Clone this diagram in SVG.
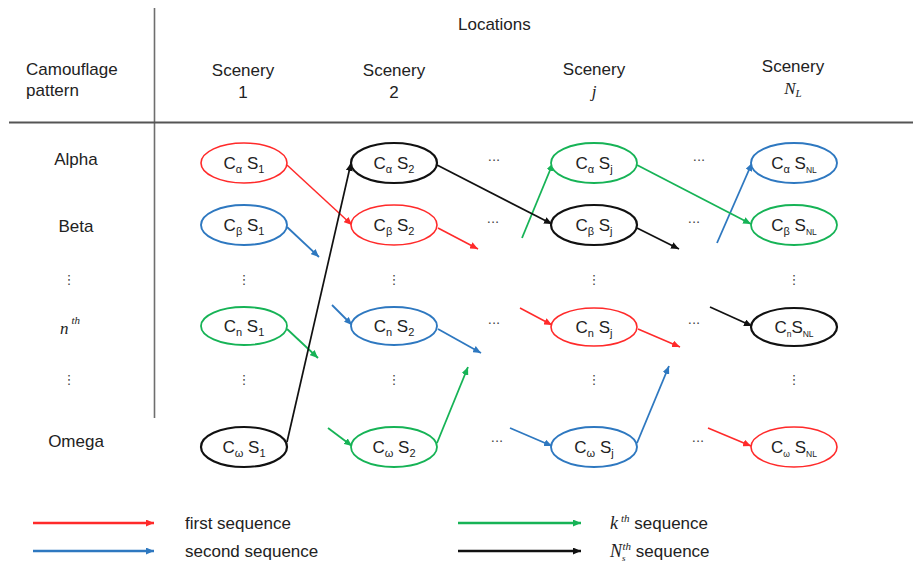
<svg xmlns="http://www.w3.org/2000/svg" width="913" height="564" viewBox="0 0 913 564">
  <style>
    text { font-family: "Liberation Sans", Arial, sans-serif; font-size: 17px; fill: #222; }
    .hd { text-anchor: middle; }
    .it { font-family: "Liberation Serif", "Times New Roman", serif; font-style: italic; }
    .sub { font-size: 11px; }
    .nl { font-size: 8.5px; }
    .dots { font-family: "DejaVu Sans", sans-serif; font-size: 13px; text-anchor: middle; fill: #444; }
    .node text { text-anchor: middle; }
    .node ellipse { fill: #fff; stroke-width: 1.6; }
    .red ellipse { stroke: #ff2a2a; }
    .blue ellipse { stroke: #2e78c0; stroke-width: 1.9; }
    .green ellipse { stroke: #16b356; stroke-width: 1.8; }
    .black ellipse { stroke: #111; stroke-width: 2.2; }
    .c { fill: none; stroke-width: 1.5; }
    .cr { stroke: #ff2a2a; marker-end: url(#ar); }
    .cb { stroke: #2e78c0; stroke-width: 1.8; marker-end: url(#ab); }
    .cg { stroke: #16b356; stroke-width: 1.8; marker-end: url(#ag); }
    .ck { stroke: #111; stroke-width: 1.7; marker-end: url(#ak); }
    .lg { stroke-width: 2.4; }
  </style>
  <defs>
    <marker id="ar" markerUnits="userSpaceOnUse" markerWidth="8" markerHeight="7" refX="8" refY="3.5" orient="auto"><path d="M0,0 L8,3.5 L0,7 z" fill="#ff2a2a"/></marker>
    <marker id="ab" markerUnits="userSpaceOnUse" markerWidth="8" markerHeight="7" refX="8" refY="3.5" orient="auto"><path d="M0,0 L8,3.5 L0,7 z" fill="#2e78c0"/></marker>
    <marker id="ag" markerUnits="userSpaceOnUse" markerWidth="8" markerHeight="7" refX="8" refY="3.5" orient="auto"><path d="M0,0 L8,3.5 L0,7 z" fill="#16b356"/></marker>
    <marker id="ak" markerUnits="userSpaceOnUse" markerWidth="8" markerHeight="7" refX="8" refY="3.5" orient="auto"><path d="M0,0 L8,3.5 L0,7 z" fill="#111"/></marker>
  </defs>

  <rect width="913" height="564" fill="#fff"/>

  <!-- table rules -->
  <line x1="154.5" y1="8" x2="154.5" y2="418" stroke="#6e6e6e" stroke-width="1.6"/>
  <line x1="9" y1="122.5" x2="913" y2="122.5" stroke="#555" stroke-width="2.2"/>

  <!-- header -->
  <g id="header">
    <text x="26" y="75">Camouflage</text>
    <text x="26" y="96">pattern</text>
    <text x="458" y="30">Locations</text>
    <text class="hd" x="243" y="76">Scenery</text>
    <text class="hd" x="243" y="98">1</text>
    <text class="hd" x="394" y="76">Scenery</text>
    <text class="hd" x="394" y="98">2</text>
    <text class="hd" x="594" y="75">Scenery</text>
    <text class="hd it" x="594" y="97">j</text>
    <text class="hd" x="793" y="72">Scenery</text>
    <text class="hd it" x="793" y="94">N<tspan class="sub" dy="3">L</tspan></text>
  </g>

  <!-- row labels -->
  <g id="rows">
    <text class="hd" x="76" y="165">Alpha</text>
    <text class="hd" x="76" y="232">Beta</text>
    <text class="dots" x="69" y="284">⋮</text>
    <text class="it" x="60" y="334" font-size="18">n<tspan font-size="11" dx="3" dy="-10">th</tspan></text>
    <text class="dots" x="69" y="384">⋮</text>
    <text class="hd" x="76" y="447">Omega</text>
  </g>

  <!-- column ellipsis marks -->
  <g id="gaps">
    <text class="dots" x="244" y="284">⋮</text>
    <text class="dots" x="394" y="284">⋮</text>
    <text class="dots" x="594" y="284">⋮</text>
    <text class="dots" x="794" y="284">⋮</text>
    <text class="dots" x="244" y="384">⋮</text>
    <text class="dots" x="394" y="384">⋮</text>
    <text class="dots" x="594" y="384">⋮</text>
    <text class="dots" x="794" y="384">⋮</text>
    <text class="dots" x="494" y="165">···</text>
    <text class="dots" x="493" y="227">···</text>
    <text class="dots" x="494" y="328">···</text>
    <text class="dots" x="497" y="446">···</text>
    <text class="dots" x="699" y="165">···</text>
    <text class="dots" x="694" y="227">···</text>
    <text class="dots" x="694" y="328">···</text>
    <text class="dots" x="698" y="446">···</text>
  </g>

  <!-- connectors -->
  <g id="connectors">
    <!-- first sequence -->
    <line class="c cr" x1="287" y1="165" x2="352" y2="225"/>
    <line class="c cr" x1="438" y1="228" x2="478" y2="249"/>
    <line class="c cr" x1="520" y1="308" x2="552" y2="325"/>
    <line class="c cr" x1="638" y1="329" x2="680" y2="347"/>
    <line class="c cr" x1="708" y1="428" x2="751" y2="446"/>
    <!-- second sequence -->
    <line class="c cb" x1="287" y1="227" x2="319" y2="257"/>
    <line class="c cb" x1="332" y1="305" x2="352" y2="325"/>
    <line class="c cb" x1="438" y1="329" x2="481" y2="353"/>
    <line class="c cb" x1="510" y1="428" x2="552" y2="446"/>
    <line class="c cb" x1="637" y1="443" x2="669" y2="366"/>
    <line class="c cb" x1="717" y1="243" x2="752" y2="163"/>
    <!-- k-th sequence -->
    <line class="c cg" x1="287" y1="329" x2="318" y2="358"/>
    <line class="c cg" x1="328" y1="428" x2="352" y2="446"/>
    <line class="c cg" x1="437" y1="443" x2="468" y2="367"/>
    <line class="c cg" x1="522" y1="238" x2="553" y2="163"/>
    <line class="c cg" x1="637" y1="165" x2="751" y2="224"/>
    <!-- Ns-th sequence -->
    <line class="c ck" x1="287" y1="442" x2="351" y2="163"/>
    <line class="c ck" x1="437" y1="165" x2="552" y2="224"/>
    <line class="c ck" x1="637" y1="228" x2="679" y2="249"/>
    <line class="c ck" x1="710" y1="307" x2="752" y2="326"/>
  </g>

  <!-- row alpha -->
  <g id="n-a1" class="node red"><ellipse cx="244" cy="163" rx="43" ry="20"/><text x="244" y="169">C<tspan class="sub" dy="4">α</tspan><tspan dy="-4"> S</tspan><tspan class="sub" dy="4">1</tspan></text></g>
  <g id="n-a2" class="node black"><ellipse cx="394" cy="163" rx="43" ry="20"/><text x="394" y="169">C<tspan class="sub" dy="4">α</tspan><tspan dy="-4"> S</tspan><tspan class="sub" dy="4">2</tspan></text></g>
  <g id="n-aj" class="node green"><ellipse cx="594" cy="163" rx="43" ry="20"/><text x="594" y="169">C<tspan class="sub" dy="4">α</tspan><tspan dy="-4"> S</tspan><tspan class="sub" dy="4">j</tspan></text></g>
  <g id="n-aN" class="node blue"><ellipse cx="794" cy="163" rx="43" ry="20"/><text x="794" y="169">C<tspan class="sub" dy="4">α</tspan><tspan dy="-4"> S</tspan><tspan class="nl" dy="4">NL</tspan></text></g>

  <!-- row beta -->
  <g id="n-b1" class="node blue"><ellipse cx="244" cy="225" rx="43" ry="20"/><text x="244" y="231">C<tspan class="sub" dy="4">β</tspan><tspan dy="-4"> S</tspan><tspan class="sub" dy="4">1</tspan></text></g>
  <g id="n-b2" class="node red"><ellipse cx="394" cy="225" rx="43" ry="20"/><text x="394" y="231">C<tspan class="sub" dy="4">β</tspan><tspan dy="-4"> S</tspan><tspan class="sub" dy="4">2</tspan></text></g>
  <g id="n-bj" class="node black"><ellipse cx="594" cy="225" rx="43" ry="20"/><text x="594" y="231">C<tspan class="sub" dy="4">β</tspan><tspan dy="-4"> S</tspan><tspan class="sub" dy="4">j</tspan></text></g>
  <g id="n-bN" class="node green"><ellipse cx="794" cy="225" rx="43" ry="20"/><text x="794" y="231">C<tspan class="sub" dy="4">β</tspan><tspan dy="-4"> S</tspan><tspan class="nl" dy="4">NL</tspan></text></g>

  <!-- row n -->
  <g id="n-n1" class="node green"><ellipse cx="244" cy="326" rx="43" ry="19"/><text x="244" y="332">C<tspan class="sub" dy="4">n</tspan><tspan dy="-4"> S</tspan><tspan class="sub" dy="4">1</tspan></text></g>
  <g id="n-n2" class="node blue"><ellipse cx="394" cy="326" rx="43" ry="19"/><text x="394" y="332">C<tspan class="sub" dy="4">n</tspan><tspan dy="-4"> S</tspan><tspan class="sub" dy="4">2</tspan></text></g>
  <g id="n-nj" class="node red"><ellipse cx="594" cy="327" rx="43" ry="19"/><text x="594" y="333">C<tspan class="sub" dy="4">n</tspan><tspan dy="-4"> S</tspan><tspan class="sub" dy="4">j</tspan></text></g>
  <g id="n-nN" class="node black"><ellipse cx="794" cy="327" rx="43" ry="19"/><text x="794" y="333">C<tspan class="nl" dy="4">n</tspan><tspan dy="-4">S</tspan><tspan class="nl" dy="4">NL</tspan></text></g>

  <!-- row omega -->
  <g id="n-o1" class="node black"><ellipse cx="244" cy="447" rx="43" ry="20"/><text x="244" y="453">C<tspan class="sub" dy="4">ω</tspan><tspan dy="-4"> S</tspan><tspan class="sub" dy="4">1</tspan></text></g>
  <g id="n-o2" class="node green"><ellipse cx="394" cy="447" rx="43" ry="20"/><text x="394" y="453">C<tspan class="sub" dy="4">ω</tspan><tspan dy="-4"> S</tspan><tspan class="sub" dy="4">2</tspan></text></g>
  <g id="n-oj" class="node blue"><ellipse cx="594" cy="447" rx="43" ry="20"/><text x="594" y="453">C<tspan class="sub" dy="4">ω</tspan><tspan dy="-4"> S</tspan><tspan class="sub" dy="4">j</tspan></text></g>
  <g id="n-oN" class="node red"><ellipse cx="794" cy="447" rx="43" ry="20"/><text x="794" y="453">C<tspan class="nl" dy="4">ω</tspan><tspan dy="-4"> S</tspan><tspan class="nl" dy="4">NL</tspan></text></g>

  <!-- legend -->
  <g id="legend">
    <line class="c cr lg" x1="33" y1="523" x2="154" y2="523"/>
    <line class="c cb lg" x1="33" y1="551" x2="154" y2="551"/>
    <line class="c cg lg" x1="458" y1="523" x2="581" y2="523"/>
    <line class="c ck lg" x1="458" y1="551" x2="581" y2="551"/>
    <text x="185" y="529">first sequence</text>
    <text x="185" y="557">second sequence</text>
    <text x="610" y="529"><tspan class="it" font-size="18">k</tspan><tspan class="it" font-size="11" dx="3" dy="-7">th</tspan><tspan dy="7"> sequence</tspan></text>
    <text x="610" y="557"><tspan class="it" font-size="18">N</tspan><tspan class="it" font-size="9" dy="4">s</tspan><tspan class="it" font-size="11" dx="-3" dy="-11">th</tspan><tspan dy="7"> sequence</tspan></text>
  </g>
</svg>
